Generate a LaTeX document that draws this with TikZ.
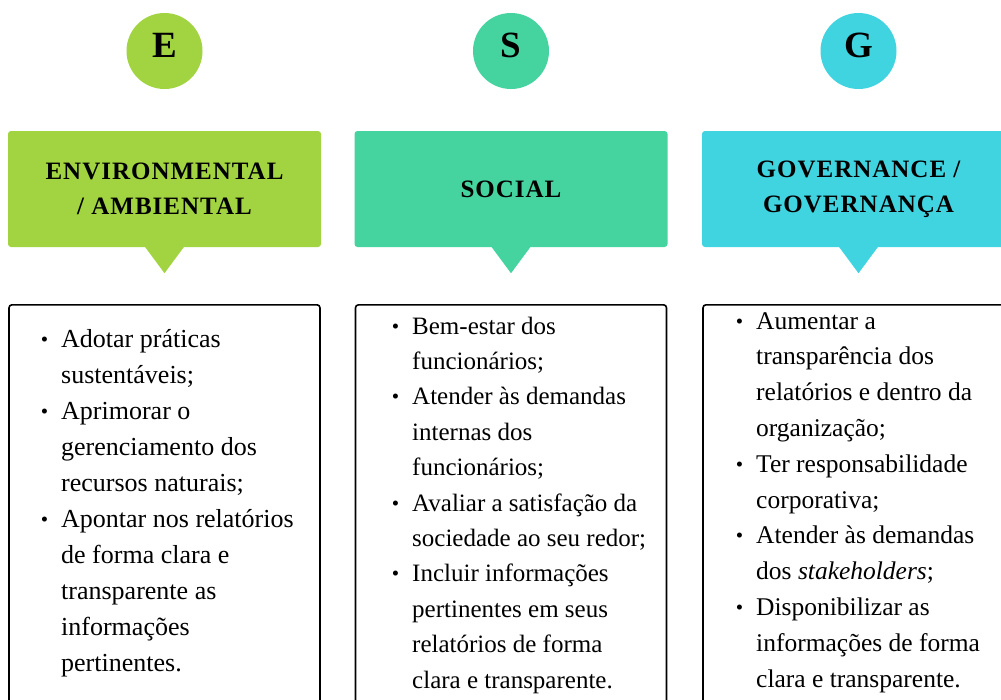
\documentclass[tikz,border=0pt]{standalone}
\usepackage{fontspec}
\setmainfont{Liberation Serif}

\definecolor{corE}{RGB}{161,212,64}
\definecolor{corS}{RGB}{69,211,160}
\definecolor{corG}{RGB}{64,212,224}

\tikzset{
  circulo/.style={circle,minimum size=76pt,inner sep=0pt},
  letra/.style={anchor=base,inner sep=0pt,font=\fontsize{37}{37}\selectfont\bfseries},
  cabec/.style={rounded corners=3pt,minimum width=313pt,minimum height=116pt,align=center,inner sep=0pt,font=\fontsize{25}{35}\selectfont\bfseries\addfontfeature{LetterSpace=4}},
  caixa/.style={draw=black,line width=1.6pt,rounded corners=3pt,minimum width=311pt,minimum height=420pt,anchor=north},
  lista/.style={align=left,anchor=base west,inner sep=0pt},
}
\newcommand{\marca}{\llap{\raisebox{1pt}{\fontsize{21}{21}\selectfont\textbullet}\hspace{13pt}}}

\begin{document}
\begin{tikzpicture}[x=1pt,y=1pt]
\def\alt{-189};%Altura dos cabecalhos
\def\topo{-304};%Topo das caixas

\useasboundingbox (0,0) rectangle (1001,-699);
\fill[white] (0,0) rectangle (1001,-699);
\clip (0,0) rectangle (1001,-699);

%Circulos, cabecalhos e caixas
\foreach \n/\x/\txt in {E/164.5/{ENVIRONMENTAL\\/ AMBIENTAL},S/511/{SOCIAL},G/858.5/{GOVERNANCE /\\GOVERNANÇA}}{
    \node[circulo,fill=cor\n] (c\n) at (\x,-51) {};
    \node[letra] (l\n) at ([yshift=-6pt]c\n.center) {\n};
    \node[cabec,fill=cor\n] (h\n) at (\x,\alt) {\txt};
    \fill[cor\n] ([xshift=-20pt,yshift=1pt]h\n.south) -- ([xshift=20pt,yshift=1pt]h\n.south) -- ([yshift=-26pt]h\n.south) -- cycle;
    \node[caixa] (b\n) at (\x,\topo) {};
}

%Listas (ancoradas na ultima linha)
\node[lista,font=\fontsize{26}{36}\selectfont] (tE) at (61,-671) {%
\marca Adotar práticas\\
sustentáveis;\\
\marca Aprimorar o\\
gerenciamento dos\\
recursos naturais;\\
\marca Apontar nos relatórios\\
de forma clara e\\
transparente as\\
informações\\
pertinentes.};

\node[lista,font=\fontsize{25}{35.4}\selectfont] (tS) at (412,-688) {%
\marca Bem-estar dos\\
funcionários;\\
\marca Atender às demandas\\
internas dos\\
funcionários;\\
\marca Avaliar a satisfação da\\
sociedade ao seu redor;\\
\marca Incluir informações\\
pertinentes em seus\\
relatórios de forma\\
clara e transparente.};

\node[lista,font=\fontsize{25.5}{35.8}\selectfont] (tG) at (756,-687) {%
\marca Aumentar a\\
transparência dos\\
relatórios e dentro da\\
organização;\\
\marca Ter responsabilidade\\
corporativa;\\
\marca Atender às demandas\\
dos \textit{stakeholders};\\
\marca Disponibilizar as\\
informações de forma\\
clara e transparente.};
\end{tikzpicture}
\end{document}
